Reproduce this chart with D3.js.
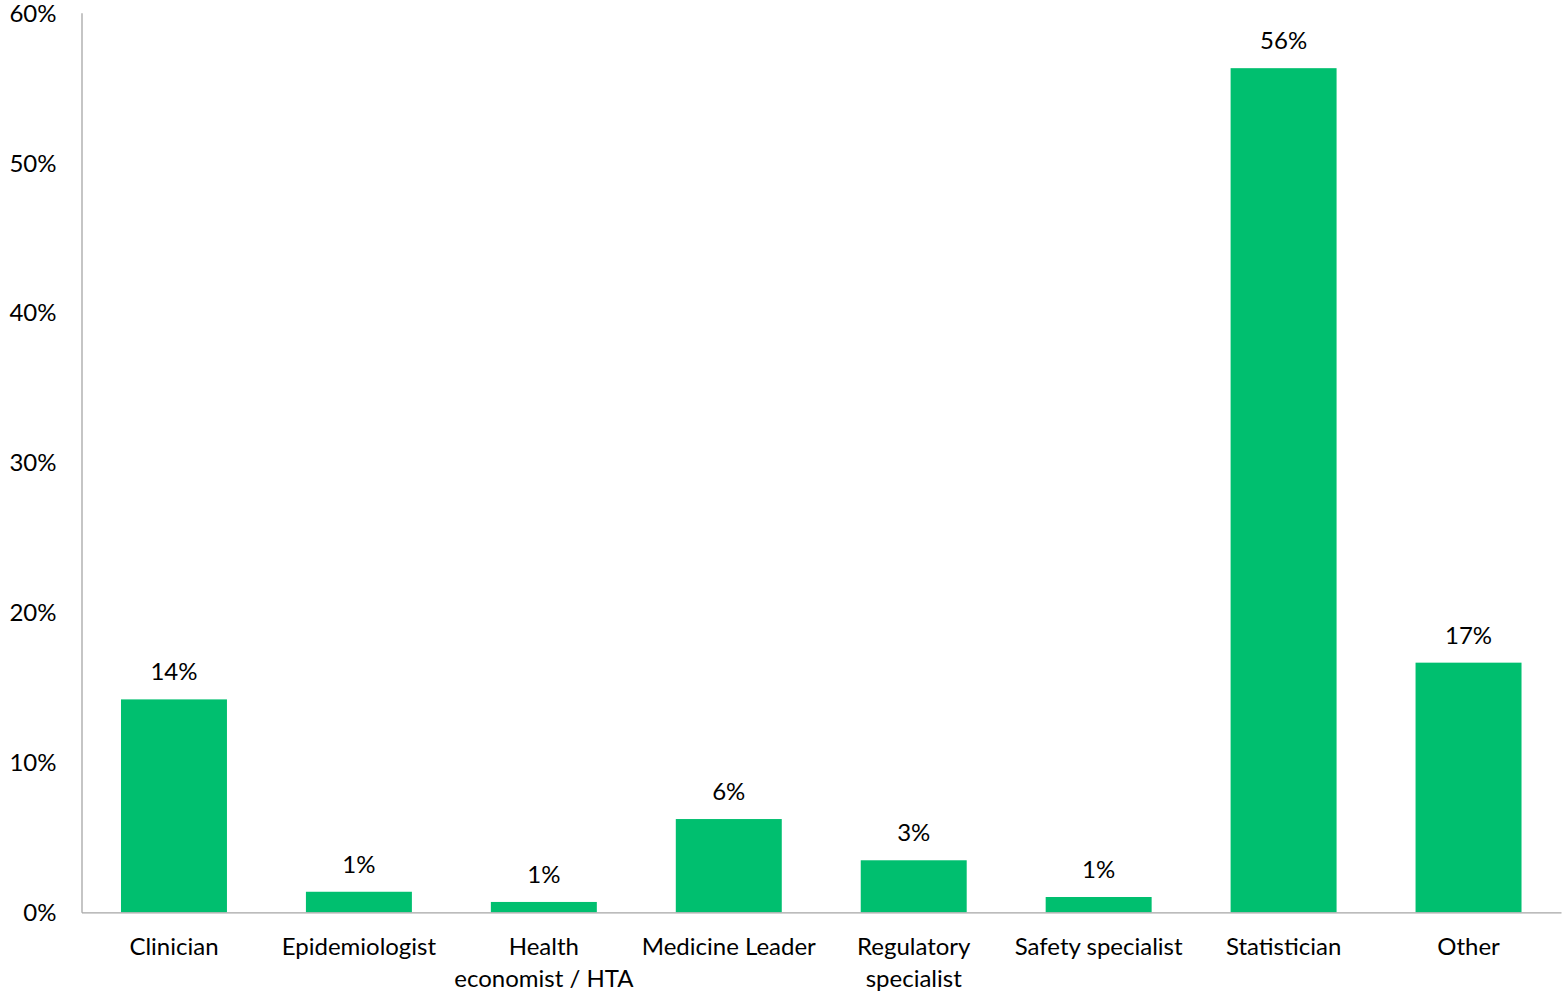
<!DOCTYPE html>
<html>
<head>
<meta charset="utf-8">
<script src="https://cdn.jsdelivr.net/npm/d3@7"></script>
<style>
  html, body { margin: 0; padding: 0; background: #fff; }
  svg { display: block; }
  text { font-family: Lato, "Open Sans", sans-serif; fill: #000; }
</style>
</head>
<body>
<div id="chart"></div>
<script>
// Respondent roles, share of respondents (%)
const categories = [
  "Clinician",
  "Epidemiologist",
  "Health|economist / HTA",
  "Medicine Leader",
  "Regulatory|specialist",
  "Safety specialist",
  "Statistician",
  "Other"
];
const shares = [14.2, 1.37, 0.69, 6.22, 3.47, 1.02, 56.3, 16.65];
const yTicks = [0, 10, 20, 30, 40, 50, 60];

const W = 1562, H = 994;
const plot = { left: 81.5, right: 1561, top: 12.7, bottom: 912.3 };
const FONT = 24;

const svg = d3.select("#chart").append("svg")
  .attr("width", W).attr("height", H);

const x = d3.scaleBand()
  .domain(categories)
  .range([plot.left, plot.right])
  .paddingInner(0.427)
  .paddingOuter(0.2135);

const y = d3.scaleLinear()
  .domain([0, 60])
  .range([plot.bottom, plot.top]);

// Bars
svg.append("g").selectAll("rect")
  .data(categories)
  .join("rect")
  .attr("x", d => x(d))
  .attr("width", x.bandwidth())
  .attr("y", (d, i) => y(shares[i]))
  .attr("height", (d, i) => y(0) - y(shares[i]))
  .attr("fill", "#00BF6F");

// Value labels above bars
svg.append("g").selectAll("text")
  .data(categories)
  .join("text")
  .attr("x", d => x(d) + x.bandwidth() / 2)
  .attr("y", (d, i) => y(shares[i]) - 19)
  .attr("text-anchor", "middle")
  .style("font-size", FONT + "px")
  .text((d, i) => Math.round(shares[i]) + "%");

// Y axis
const yAxis = svg.append("g")
  .attr("transform", `translate(${plot.left},0)`)
  .call(d3.axisLeft(y).tickValues(yTicks).tickSize(0).tickPadding(25)
    .tickFormat(d => d + "%"));
yAxis.select(".domain").attr("stroke", "#a6a6a6").attr("stroke-width", 1.3);
yAxis.selectAll(".tick text")
  .attr("fill", "#000")
  .attr("dy", "0.35em")
  .style("font-size", FONT + "px")
  .style("font-family", "Lato, 'Open Sans', sans-serif");

// X axis
const xAxis = svg.append("g")
  .attr("transform", `translate(0,${plot.bottom})`)
  .call(d3.axisBottom(x).tickSize(0).tickFormat(""));
xAxis.select(".domain").attr("stroke", "#a6a6a6").attr("stroke-width", 1.3);

// Category labels (may wrap onto two lines)
xAxis.selectAll(".tick").each(function(d) {
  const t = d3.select(this).append("text")
    .attr("text-anchor", "middle")
    .attr("fill", "#000")
    .style("font-size", FONT + "px")
    .style("font-family", "Lato, 'Open Sans', sans-serif");
  d.split("|").forEach((line, i) => {
    t.append("tspan").attr("x", 0).attr("y", 43 + i * 32).text(line);
  });
});
</script>
</body>
</html>
